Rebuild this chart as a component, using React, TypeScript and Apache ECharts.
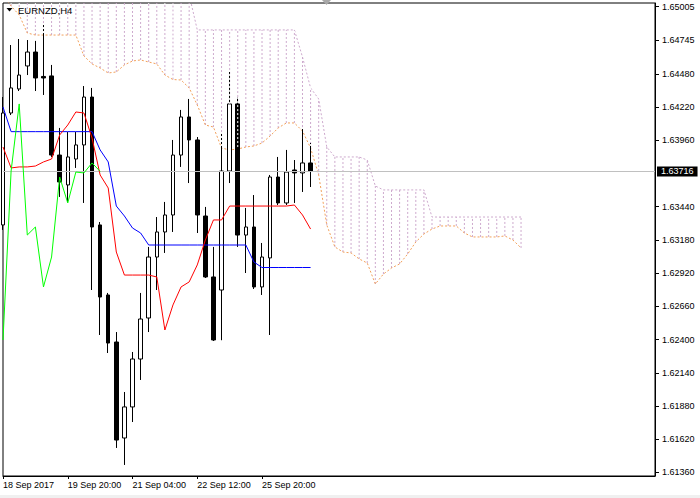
import React, { useEffect, useRef } from "react";
import * as echarts from "echarts";

// ---- chart text ----
const chartTitle = "EURNZD,H4";
const xTickBars = [0, 8, 16, 24, 32];
const xTickLabels = ["18 Sep 2017", "19 Sep 20:00", "21 Sep 04:00", "22 Sep 12:00", "25 Sep 20:00"];
const yTickValues = [
  1.6136, 1.6162, 1.6188, 1.6214, 1.624, 1.6266, 1.6292, 1.6318, 1.6344,
  1.6396, 1.6422, 1.6448, 1.64745, 1.65005,
];
const lastPrice = 1.63716;

// ---- H4 candles (bar 0 .. 38) ----
const openP = [
  1.63297, 1.64173, 1.64361, 1.64541, 1.6465, 1.64459, 1.64463, 1.63844, 1.6361, 1.63813,
  1.63923, 1.64298, 1.63297, 1.62749, 1.62381, 1.6163, 1.61873, 1.62248, 1.62569, 1.63046,
  1.63242, 1.63375, 1.63844, 1.64142, 1.63962, 1.63367, 1.6289, 1.62788, 1.63719, 1.64244,
  1.63218, 1.63281, 1.62812, 1.63039, 1.63672, 1.63469, 1.63727, 1.63704, 1.63782,
];
const closeP = [
  1.64173, 1.64369, 1.6447, 1.6465, 1.64447, 1.64447, 1.63844, 1.63633, 1.63829, 1.63923,
  1.64298, 1.63281, 1.62733, 1.62373, 1.61614, 1.61873, 1.62248, 1.62561, 1.63046, 1.63242,
  1.63375, 1.63844, 1.64142, 1.63962, 1.63375, 1.6289, 1.62397, 1.63719, 1.64244, 1.63218,
  1.63281, 1.62812, 1.63046, 1.63672, 1.63469, 1.63711, 1.63704, 1.63782, 1.63716,
];
const lowP = [
  1.63258, 1.64157, 1.64345, 1.6447, 1.64345, 1.64314, 1.63829, 1.63516, 1.63477, 1.63743,
  1.63469, 1.62788, 1.62436, 1.62295, 1.61552, 1.61419, 1.61755, 1.62084, 1.62459, 1.62788,
  1.63078, 1.63242, 1.63751, 1.63625, 1.63234, 1.62882, 1.62389, 1.62395, 1.63625, 1.63125,
  1.62921, 1.62796, 1.62749, 1.62436, 1.63453, 1.63453, 1.63469, 1.63555, 1.63594,
];
const highP = [
  1.64298, 1.64705, 1.64752, 1.64744, 1.64737, 1.64862, 1.64549, 1.64056, 1.64024, 1.64024,
  1.64384, 1.64369, 1.6332, 1.62765, 1.62459, 1.6199, 1.62303, 1.62765, 1.63125, 1.63359,
  1.63477, 1.63962, 1.64197, 1.64283, 1.63985, 1.63438, 1.63125, 1.64017, 1.64494, 1.64298,
  1.6343, 1.63531, 1.63156, 1.63688, 1.63829, 1.63884, 1.63805, 1.64063, 1.63938,
];

// ---- Ichimoku ----
const tenkan = [
  1.63907, 1.63743, 1.63751, 1.63751, 1.63758, 1.6379, 1.63813, 1.64001, 1.64079, 1.64181,
  1.64173, 1.63977, 1.63688, 1.63586, 1.63085, 1.62905, 1.62905, 1.62905, 1.62905, 1.6289,
  1.62475, 1.62671, 1.62812, 1.62851, 1.62984, 1.63179, 1.63336, 1.63336, 1.63445, 1.63445,
  1.63445, 1.63445, 1.63445, 1.63445, 1.63445, 1.63445, 1.63453, 1.63375, 1.63265,
];
const kijun = [
  1.6422, 1.64027, 1.64027, 1.64027, 1.64027, 1.64027, 1.64027, 1.64027, 1.64027, 1.64027,
  1.64027, 1.64027, 1.63884, 1.6379, 1.63445, 1.63367, 1.63273, 1.63234, 1.6314, 1.6314,
  1.6314, 1.6314, 1.6314, 1.6314, 1.6314, 1.6314, 1.6314, 1.6314, 1.6314, 1.6314,
  1.6314, 1.63007, 1.62964, 1.62964, 1.62964, 1.62964, 1.62964, 1.62964, 1.62964,
];
const chikouShift = 26;
const senkouA = [
  1.65096, 1.6501, 1.6494, 1.64799, 1.64783, 1.64783, 1.64783, 1.64783, 1.64783, 1.64783,
  1.64619, 1.64557, 1.64525, 1.64486, 1.64494, 1.64549, 1.6458, 1.64588, 1.64572, 1.64557,
  1.6447, 1.64435, 1.64431, 1.64369, 1.64236, 1.64079, 1.64063, 1.63899, 1.63884, 1.63891,
  1.63907, 1.63915, 1.63938, 1.63993, 1.64056, 1.64095, 1.64095, 1.64032, 1.63899, 1.63688,
  1.63297, 1.63125, 1.63085, 1.63078, 1.63031, 1.62999, 1.62835, 1.62913, 1.6296, 1.62992,
  1.6307, 1.63164, 1.63226, 1.63265, 1.63289, 1.63289, 1.63289, 1.63234, 1.63203, 1.63203,
  1.63203, 1.63203, 1.63211, 1.63179, 1.63117,
];
const senkouB = [
  1.651, 1.651, 1.651, 1.651, 1.651, 1.651, 1.651, 1.651, 1.651, 1.651,
  1.651, 1.651, 1.651, 1.651, 1.651, 1.651, 1.651, 1.651, 1.651, 1.651,
  1.651, 1.651, 1.651, 1.651, 1.64823, 1.64823, 1.64823, 1.64823, 1.64823, 1.64823,
  1.64823, 1.64823, 1.64823, 1.64823, 1.64823, 1.64823, 1.64823, 1.64611, 1.64369, 1.64283,
  1.63907, 1.63829, 1.63829, 1.63829, 1.63829, 1.63805, 1.63602, 1.63571, 1.63571, 1.63571,
  1.63571, 1.63571, 1.63571, 1.63359, 1.63359, 1.63359, 1.63359, 1.63359, 1.63359, 1.63359,
  1.63359, 1.63359, 1.63359, 1.63359, 1.63359,
];

const FONT = "Liberation Sans";
const THISTLE = "#CDA9CD";
const SANDY = "#F2A05A";

export default function App() {
  const ref = useRef<HTMLDivElement>(null);

  useEffect(() => {
    if (!ref.current) return;
    const chart = echarts.init(ref.current, null, { renderer: "svg" });

    const candleData = openP.map((o, i) => [i, o, closeP[i], lowP[i], highP[i]]);
    const pts = (arr: number[]) => arr.map((v, i) => [i, v]);
    const chikou = closeP.slice(chikouShift).map((v, i) => [i, v]);
    const cloud = senkouA.map((a, i) => [i, a, senkouB[i]]);
    const cloudOverCandles = cloud.slice(0, openP.length);

    const hatch = (stroke: string, offset: number) => (params: any, api: any) => {
      const x = api.value(0);
      const p1 = api.coord([x, api.value(1)]);
      const p2 = api.coord([x, api.value(2)]);
      return {
        type: "line",
        shape: { x1: p1[0], y1: p1[1], x2: p2[0], y2: p2[1] },
        style: { stroke, lineWidth: 1, lineDash: [2, 2], lineDashOffset: offset, fill: null },
        silent: true,
      };
    };

    const lineSeries = (data: number[][], color: string, z: number, dashed = false) => ({
      type: "line",
      data,
      symbol: "none",
      showSymbol: false,
      silent: true,
      z,
      clip: true,
      lineStyle: { color, width: 1, type: dashed ? [2, 2] : "solid" },
    });

    const option: any = {
      animation: false,
      backgroundColor: "#ffffff",
      grid: {
        left: 3,
        right: 45,
        top: 3,
        bottom: 22,
        show: true,
        borderColor: "#000000",
        borderWidth: 1,
        backgroundColor: "transparent",
      },
      xAxis: {
        type: "value",
        min: 0,
        max: 80.55,
        splitLine: { show: false },
        axisLine: { show: true, onZero: false, lineStyle: { color: "#000000", width: 1 } },
        axisTick: { show: true, length: 3, customValues: xTickBars, lineStyle: { color: "#000000" } },
        axisLabel: {
          customValues: xTickBars,
          formatter: (v: number) => {
            const idx = xTickBars.indexOf(Math.round(v));
            return idx >= 0 ? xTickLabels[idx] : "";
          },
          align: "left",
          margin: 4,
          color: "#000000",
          fontFamily: FONT,
          fontSize: 9,
          hideOverlap: false,
        },
      },
      yAxis: {
        type: "value",
        position: "right",
        min: 1.613326,
        max: 1.650337,
        splitLine: { show: false },
        axisLine: { show: true, onZero: false, lineStyle: { color: "#000000", width: 1 } },
        axisTick: { show: true, length: 4, customValues: yTickValues, lineStyle: { color: "#000000" } },
        axisLabel: {
          customValues: yTickValues,
          formatter: (v: number) => v.toFixed(5),
          margin: 7,
          color: "#000000",
          fontFamily: FONT,
          fontSize: 9,
          hideOverlap: false,
        },
      },
      graphic: [
        {
          type: "polygon",
          shape: { points: [[6.5, 8], [12.5, 8], [9.5, 11.5]] },
          style: { fill: "#000000" },
          z: 100,
        },
        {
          type: "text",
          x: 18,
          y: 10,
          style: {
            text: chartTitle,
            fill: "#000000",
            fontFamily: FONT,
            fontSize: 9.5,
            verticalAlign: "middle",
            align: "left",
          },
          z: 100,
        },
        {
          type: "polygon",
          shape: { points: [[322, 0], [331, 0], [326.5, 5]] },
          style: { fill: "#A8A8A8" },
          z: 100,
        },
        {
          type: "rect",
          shape: { x: 0, y: 495, width: 700, height: 3 },
          style: { fill: "#F0F0F0" },
          z: 100,
        },
      ],
      series: [
        {
          type: "custom",
          data: cloud,
          renderItem: hatch(THISTLE, 0),
          clip: true,
          silent: true,
          z: 1,
        },
        lineSeries(pts(senkouA), SANDY, 2, true),
        {
          ...lineSeries(pts(senkouB), THISTLE, 2, true),
          markLine: {
            silent: true,
            symbol: ["none", "none"],
            animation: false,
            precision: 5,
            lineStyle: { color: "#C0C0C0", type: "solid", width: 1 },
            label: {
              show: true,
              position: "end",
              distance: 2,
              formatter: lastPrice.toFixed(5),
              color: "#ffffff",
              backgroundColor: "#000000",
              padding: [1, 4, 0, 4],
              fontFamily: FONT,
              fontSize: 9,
            },
            emphasis: { disabled: true },
            data: [{ yAxis: lastPrice }],
          },
        },
        {
          type: "candlestick",
          data: candleData,
          barWidth: 4,
          silent: true,
          clip: true,
          z: 3,
          itemStyle: {
            color: "#ffffff",
            color0: "#000000",
            borderColor: "#000000",
            borderColor0: "#000000",
            borderWidth: 1,
          },
        },
        {
          type: "custom",
          data: cloudOverCandles,
          renderItem: hatch("#ffffff", 2),
          clip: true,
          silent: true,
          z: 4,
        },
        lineSeries(pts(kijun), "#0000FF", 5),
        lineSeries(pts(tenkan), "#FF0000", 5),
        lineSeries(chikou, "#00FF00", 5),
      ],
    };

    chart.setOption(option);
    return () => chart.dispose();
  }, []);

  return (
    <div
      ref={ref}
      style={{ position: "absolute", left: 0, top: 0, width: 700, height: 498, background: "#fff" }}
    />
  );
}
